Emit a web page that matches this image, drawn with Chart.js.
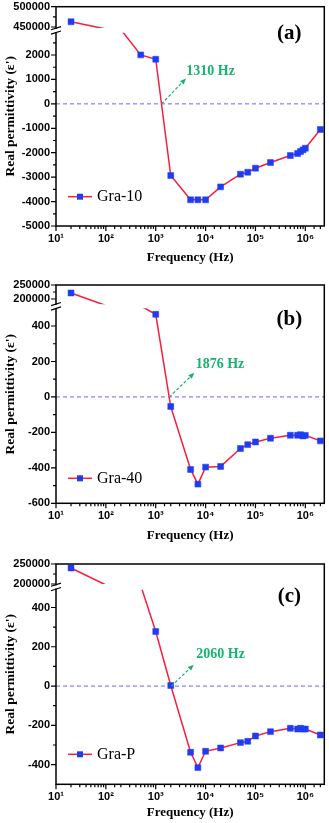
<!DOCTYPE html>
<html>
<head>
<meta charset="utf-8">
<script src="https://cdn.jsdelivr.net/npm/chart.js@4.4.1/dist/chart.umd.min.js"></script>
<style>
  html, body { margin: 0; padding: 0; background: #fff; }
  .panel { position: relative; width: 329px; }
</style>
</head>
<body>
<div class="panel" style="height:270px"><canvas id="chartA"></canvas></div>
<div class="panel" style="height:275px"><canvas id="chartB"></canvas></div>
<div class="panel" style="height:278px"><canvas id="chartC"></canvas></div>
<script>
// frequency axis range (Hz)
const xRange = [10, 2.4e6];

// Gra-10
const freqA = [20, 100, 200, 500, 1000, 2000, 5000, 7000, 1e4, 2e4, 5e4, 7e4, 1e5, 2e5, 5e5, 7e5, 8e5, 9e5, 1e6, 2e6];
const permA = [463000, 355000, 299000, 2005, 1828, -2933, -3929, -3929, -3929, -3397, -2879, -2797, -2633, -2401, -2115, -2033, -1951, -1883, -1814, -1050];
const lowA = [-5000, 2910];
const highA = [447540, 500000];
const majorA = [500000, 450000, 2000, 1000, 0, -1000, -2000, -3000, -4000, -5000];
const minorA = [475000, 2500, 1500, 500, -500, -1500, -2500, -3500, -4500];
const crossA = 1310;
const tipA = [3800, 983];
const noteA = [4110, 1324];

// Gra-40
const freqB = [20, 100, 500, 1000, 2000, 5000, 7000, 1e4, 2e4, 5e4, 7e4, 1e5, 2e5, 5e5, 7e5, 8e5, 9e5, 1e6, 2e6];
const permB = [221400, 126850, 99800, 466, -54, -409, -492, -396, -392, -291, -269, -254, -233, -216, -216, -213, -220, -217, -248];
const lowB = [-600, 500];
const highB = [181000, 250000];
const majorB = [250000, 200000, 400, 200, 0, -200, -400, -600];
const minorB = [225000, 300, 100, -100, -300, -500];
const crossB = 1876;
const tipB = [5570, 128];
const noteB = [6310, 184];

// Gra-P
const freqC = [20, 100, 500, 1000, 2000, 5000, 7000, 1e4, 2e4, 5e4, 7e4, 1e5, 2e5, 5e5, 7e5, 8e5, 9e5, 1e6, 2e6];
const permC = [240000, 165600, 148300, 278, 3, -337, -415, -332, -315, -288, -281, -254, -232, -215, -219, -215, -219, -219, -249];
const lowC = [-500, 490];
const highC = [200000, 250000];
const majorC = [250000, 200000, 400, 200, 0, -200, -400];
const minorC = [225000, 300, 100, -100, -300];
const crossC = 2060;
const tipC = [5420, 102];
const noteC = [6520, 162];

const RED = '#f81e3c';
const BLUE = '#1f3cf5';
const GREEN = '#16b36e';
const ZERO = '#6f63ff';
const SUP = ['⁰', '¹', '²', '³', '⁴', '⁵', '⁶', '⁷'];

const PANELS = {
  chartA: { freq: freqA, perm: permA, name: 'Gra-10', tag: '(a)', low: lowA, high: highA, majors: majorA, minors: minorA,
    cross: crossA, tip: tipA, note: noteA,
    height: 270, top: 6.7, bottom: 226, highFrac: 0.0971, gapFrac: 0.0219, tagDy: 26.6, legendDy: -29.3, titlePad: 5 },
  chartB: { freq: freqB, perm: permB, name: 'Gra-40', tag: '(b)', low: lowB, high: highB, majors: majorB, minors: minorB,
    cross: crossB, tip: tipB, note: noteB,
    height: 275, top: 15, bottom: 233.3, highFrac: 0.0884, gapFrac: 0.0183, tagDy: 34.3, legendDy: -25, titlePad: 2 },
  chartC: { freq: freqC, perm: permC, name: 'Gra-P', tag: '(c)', low: lowC, high: highC, majors: majorC, minors: minorC,
    cross: crossC, tip: tipC, note: noteC,
    height: 278, top: 19, bottom: 239.3, highFrac: 0.0908, gapFrac: 0.0263, tagDy: 32.7, legendDy: -30, titlePad: 3 }
};

// linear axis with a break: upper band, gap, lower band
class BrokenScale extends Chart.LinearScale {
  static id = 'broken';
  static defaults = {};
  get panel() { return PANELS[this.chart.canvas.id]; }
  determineDataLimits() {
    this.min = this.panel.low[0];
    this.max = this.panel.high[1];
  }
  buildTicks() {
    return this.panel.majors.map(v => ({ value: v }));
  }
  bands() {
    const p = this.panel;
    const h = this.bottom - this.top;
    return { yHigh: this.top + p.highFrac * h, yLow: this.top + (p.highFrac + p.gapFrac) * h };
  }
  getPixelForValue(v) {
    const { low, high } = this.panel;
    const { yHigh, yLow } = this.bands();
    if (v >= high[0]) return this.top + (high[1] - v) / (high[1] - high[0]) * (yHigh - this.top);
    if (v <= low[1]) return this.bottom - (v - low[0]) / (low[1] - low[0]) * (this.bottom - yLow);
    return yHigh + (high[0] - v) / (high[0] - low[1]) * (yLow - yHigh);
  }
  getValueForPixel(px) {
    const { low, high } = this.panel;
    const { yHigh, yLow } = this.bands();
    if (px <= yHigh) return high[1] - (px - this.top) / (yHigh - this.top) * (high[1] - high[0]);
    if (px >= yLow) return low[0] + (this.bottom - px) / (this.bottom - yLow) * (low[1] - low[0]);
    return high[0] - (px - yHigh) / (yLow - yHigh) * (high[0] - low[1]);
  }
}
Chart.register(BrokenScale);

const isDecade = v => Math.abs(Math.log10(v) - Math.round(Math.log10(v))) < 1e-9;

const panelDecor = {
  id: 'panelDecor',
  beforeDatasetsDraw(chart) {
    const { ctx, chartArea: a, scales: { y } } = chart;
    const p = PANELS[chart.canvas.id];
    const gTop = y.getPixelForValue(p.high[0]);
    const gBot = y.getPixelForValue(p.low[1]);
    ctx.save();
    ctx.beginPath();
    ctx.rect(a.left - 10, a.top - 10, a.width + 20, gTop - a.top + 10);
    ctx.rect(a.left - 10, gBot, a.width + 20, a.bottom - gBot + 10);
    ctx.clip();
  },
  afterDatasetsDraw(chart) {
    const { ctx, chartArea: a, scales: { x, y } } = chart;
    const p = PANELS[chart.canvas.id];
    ctx.restore();

    ctx.save();
    // frame
    ctx.strokeStyle = '#000';
    ctx.lineWidth = 1.5;
    ctx.strokeRect(a.left, a.top, a.width, a.height);

    // tick marks
    ctx.lineWidth = 1.2;
    ctx.beginPath();
    x.ticks.forEach(t => {
      const px = x.getPixelForValue(t.value);
      if (px > a.right - 1) return;
      const len = isDecade(t.value) ? 5 : 3;
      ctx.moveTo(px, a.bottom);
      ctx.lineTo(px, a.bottom + len);
    });
    p.majors.forEach(v => {
      const py = y.getPixelForValue(v);
      ctx.moveTo(a.left, py);
      ctx.lineTo(a.left - 5, py);
    });
    p.minors.forEach(v => {
      const py = y.getPixelForValue(v);
      ctx.moveTo(a.left, py);
      ctx.lineTo(a.left - 3, py);
    });
    ctx.stroke();

    // axis break mark
    const gTop = y.getPixelForValue(p.high[0]);
    const gBot = y.getPixelForValue(p.low[1]);
    const gMid = (gTop + gBot) / 2;
    ctx.fillStyle = '#fff';
    ctx.fillRect(a.left - 1.5, gMid - 1.6, 3, 3.2);
    ctx.lineWidth = 1.2;
    ctx.beginPath();
    [gMid - 2.2, gMid + 2.2].forEach(g => {
      ctx.moveTo(a.left - 5, g + 1.6);
      ctx.lineTo(a.left + 5, g - 1.6);
    });
    ctx.stroke();

    // crossing arrow and frequency note
    const x0 = x.getPixelForValue(p.cross), y0 = y.getPixelForValue(0);
    const x1 = x.getPixelForValue(p.tip[0]), y1 = y.getPixelForValue(p.tip[1]);
    ctx.strokeStyle = GREEN;
    ctx.fillStyle = GREEN;
    ctx.lineWidth = 1.2;
    ctx.setLineDash([3, 2]);
    ctx.beginPath();
    ctx.moveTo(x0, y0);
    ctx.lineTo(x1, y1);
    ctx.stroke();
    ctx.setLineDash([]);
    const ang = Math.atan2(y1 - y0, x1 - x0);
    ctx.beginPath();
    ctx.moveTo(x1 + Math.cos(ang) * 2, y1 + Math.sin(ang) * 2);
    ctx.lineTo(x1 - Math.cos(ang) * 4 - Math.sin(ang) * 2.5, y1 - Math.sin(ang) * 4 + Math.cos(ang) * 2.5);
    ctx.lineTo(x1 - Math.cos(ang) * 4 + Math.sin(ang) * 2.5, y1 - Math.sin(ang) * 4 - Math.cos(ang) * 2.5);
    ctx.closePath();
    ctx.fill();
    ctx.font = 'bold 14px "Liberation Serif", "Times New Roman", serif';
    ctx.textAlign = 'left';
    ctx.textBaseline = 'middle';
    ctx.fillText(p.cross + ' Hz', x.getPixelForValue(p.note[0]), y.getPixelForValue(p.note[1]));

    // panel tag
    ctx.fillStyle = '#000';
    ctx.font = 'bold 21px "Liberation Serif", "Times New Roman", serif';
    ctx.textAlign = 'center';
    ctx.fillText(p.tag, a.right - 35, a.top + p.tagDy);

    // legend
    const lx = 80, ly = a.bottom + p.legendDy;
    ctx.strokeStyle = RED;
    ctx.lineWidth = 1.5;
    ctx.beginPath();
    ctx.moveTo(lx - 12, ly);
    ctx.lineTo(lx + 12, ly);
    ctx.stroke();
    ctx.fillStyle = BLUE;
    ctx.fillRect(lx - 3, ly - 3, 6, 6);
    ctx.fillStyle = '#000';
    ctx.font = '16px "Liberation Serif", "Times New Roman", serif';
    ctx.textAlign = 'left';
    ctx.fillText(chart.data.datasets[0].label, lx + 17, ly + 0.5);
    ctx.restore();
  }
};

function makeChart(id) {
  const p = PANELS[id];
  const inGap = v => v > p.low[1] && v < p.high[0];
  new Chart(document.getElementById(id), {
    type: 'line',
    data: {
      datasets: [
        {
          label: p.name,
          data: p.freq.map((f, i) => ({ x: f, y: p.perm[i] })),
          borderColor: RED,
          borderWidth: 1.5,
          backgroundColor: BLUE,
          pointStyle: 'rect',
          pointRadius: ctx => (ctx.raw && inGap(ctx.raw.y) ? 0 : 4.2),
          pointBorderColor: BLUE,
          pointBorderWidth: 0.5,
          pointBackgroundColor: BLUE,
          tension: 0,
          order: 0
        },
        {
          label: 'zero',
          data: xRange.map(f => ({ x: f, y: 0 })),
          borderColor: ZERO,
          borderWidth: 1,
          borderDash: [4, 3],
          pointRadius: 0,
          order: 1
        }
      ]
    },
    options: {
      responsive: true,
      maintainAspectRatio: false,
      animation: false,
      events: [],
      layout: { padding: { top: p.top, right: 4, bottom: 0, left: 0 } },
      plugins: { legend: { display: false }, tooltip: { enabled: false } },
      scales: {
        x: {
          type: 'logarithmic',
          min: xRange[0],
          max: xRange[1],
          grid: { display: false, drawTicks: false },
          border: { display: false },
          ticks: {
            autoSkip: false,
            maxRotation: 0,
            padding: 6,
            color: '#000',
            font: { family: '"Liberation Sans", Arial, sans-serif', size: 11, weight: 'bold' },
            callback: v => (isDecade(v) ? '10' + SUP[Math.round(Math.log10(v))] : '')
          },
          title: {
            display: true,
            text: 'Frequency (Hz)',
            color: '#000',
            font: { family: '"Liberation Serif", "Times New Roman", serif', size: 13, weight: 'bold' },
            padding: { top: 0, bottom: p.titlePad }
          },
          afterFit: s => { s.height = p.height - p.bottom; s.paddingLeft = 0; s.paddingRight = 0; }
        },
        y: {
          type: 'broken',
          position: 'left',
          grid: { display: false, drawTicks: false },
          border: { display: false },
          ticks: {
            autoSkip: false,
            padding: 6,
            color: '#000',
            font: { family: '"Liberation Sans", Arial, sans-serif', size: 11, weight: 'bold' },
            callback: v => String(v)
          },
          title: {
            display: true,
            text: "Real permittivity (ε')",
            color: '#000',
            font: { family: '"Liberation Serif", "Times New Roman", serif', size: 13.5, weight: 'bold' },
            padding: { top: 2, bottom: 0 }
          },
          afterFit: s => { s.width = 56; s.paddingTop = 0; s.paddingBottom = 0; }
        }
      }
    },
    plugins: [panelDecor]
  });
}

['chartA', 'chartB', 'chartC'].forEach(makeChart);
</script>
</body>
</html>
